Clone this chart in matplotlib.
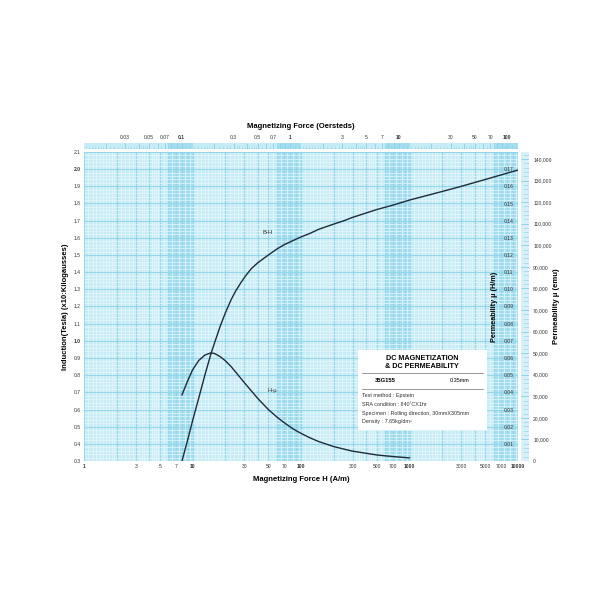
import matplotlib.pyplot as plt
import numpy as np
from matplotlib.patches import Rectangle
from matplotlib.ticker import FixedLocator, FixedFormatter, NullFormatter

plt.rcParams["font.family"] = ["Liberation Sans", "DejaVu Sans"]

MU0 = 4e-7 * np.pi          # H/m
OE = 1000 / (4 * np.pi)     # A/m per oersted

# B-H curve (H in A/m, B in Tesla)
bh_h = [8.0, 9.0, 10, 11.4, 13, 14.8, 16, 18, 20, 22.7, 25, 28, 31, 34.8,
        40, 50, 60, 70, 85, 100, 120, 146, 200, 250, 295, 400, 500, 700,
        1000, 2000, 3000, 5000, 10000]
bh_b = [0.30, 0.42, 0.533, 0.665, 0.80, 0.925, 0.99, 1.085, 1.16, 1.24,
        1.29, 1.34, 1.38, 1.42, 1.455, 1.50, 1.535, 1.56, 1.585, 1.605,
        1.625, 1.65, 1.68, 1.70, 1.718, 1.745, 1.765, 1.79, 1.82, 1.87,
        1.90, 1.94, 1.995]

# H-mu curve (H in A/m, mu in H/m)
hmu_h = [8.0, 9.0, 10, 11.4, 13, 14.8, 16, 18, 20, 22.7, 25, 28, 31, 34.8,
         40, 50, 60, 70, 85, 100, 120, 146, 200, 295, 500, 700, 1000]
hmu_mu = [0.0385, 0.0465, 0.053, 0.0585, 0.0617, 0.0630, 0.0626, 0.0608,
          0.0585, 0.0550, 0.0518, 0.0480, 0.0446, 0.0409, 0.0364, 0.0300,
          0.0256, 0.0223, 0.0186, 0.0161, 0.0136, 0.0113, 0.0084, 0.0058,
          0.0035, 0.0026, 0.0018]

h_ticks = [1, 3, 5, 7, 10, 30, 50, 70, 100, 300, 500, 700, 1000,
           3000, 5000, 7000, 10000]
oe_ticks = [0.03, 0.05, 0.07, 0.1, 0.3, 0.5, 0.7, 1, 3, 5, 7, 10,
            30, 50, 70, 100]
oe_labels = ["0.03", "0.05", "0.07", "0.1", "0.3", "0.5", "0.7", "1",
             "3", "5", "7", "10", "30", "50", "70", "100"]
b_ticks = np.round(np.arange(0.3, 2.11, 0.1), 1)
mu_ticks = np.round(np.arange(0.01, 0.171, 0.01), 2)
emu_ticks = np.arange(0, 140001, 10000)

BG = "#c8ecf6"
BAND = "#a3ddef"
MINOR = "#e6f7fc"
MAJOR = "#86d2e8"
INK = "#1d2b3a"
TXT = "#333333"


def fx(px):
    return px / 600


def fy(py):
    return 1 - py / 600


def log_grid(lo_exp, hi_exp):
    minor, major = [], []
    for e in range(lo_exp, hi_exp):
        d = 10.0 ** e
        minor += list(d * np.arange(1, 2, 0.1)) + list(d * np.arange(2, 5, 0.2)) \
            + list(d * np.arange(5, 10, 0.5))
        major += list(d * np.arange(1, 10, 1))
    major.append(10.0 ** hi_exp)
    return minor, major


fig = plt.figure(figsize=(6, 6), dpi=100)
x0, x1 = 84, 518
ytop, ybot = 152, 461
ax = fig.add_axes([fx(x0), fy(ybot), fx(x1 - x0), (ybot - ytop) / 600])
ax.set_xscale("log")
ax.set_xlim(1, 10000)
ax.set_ylim(0.3, 2.1)
ax.set_facecolor(BG)

for d in [1, 10, 100, 1000]:
    ax.axvspan(6 * d, 10 * d, color=BAND, lw=0, zorder=0)

vminor, vmajor = log_grid(0, 4)
ax.vlines(vminor, 0.3, 2.1, color=MINOR, lw=0.5, zorder=1)
ax.vlines(vmajor, 0.3, 2.1, color=MAJOR, lw=0.6, zorder=1)
ax.hlines(np.arange(0.3, 2.1, 0.02), 1, 10000, color=MINOR, lw=0.5, zorder=1)
ax.hlines(np.arange(0.3, 2.11, 0.1), 1, 10000, color=MAJOR, lw=0.6, zorder=1)

ax.plot(bh_h, bh_b, color=INK, lw=1.0, zorder=5)

for s in ax.spines.values():
    s.set_visible(False)

ax.xaxis.set_major_locator(FixedLocator(h_ticks))
ax.xaxis.set_major_formatter(FixedFormatter([str(t) for t in h_ticks]))
ax.xaxis.set_minor_locator(FixedLocator([]))
ax.xaxis.set_minor_formatter(NullFormatter())
ax.set_yticks(b_ticks)
ax.set_yticklabels([f"{t:.1f}" for t in b_ticks])
ax.tick_params(axis="both", length=0, labelsize=3.6, colors=TXT, pad=2.5)
for lab in ax.get_xticklabels():
    if lab.get_text() in ("1", "10", "100", "1000", "10000"):
        lab.set_fontweight("bold")
for lab in ax.get_yticklabels():
    if lab.get_text() in ("1.0", "2.0"):
        lab.set_fontweight("bold")

ax.set_xlabel("Magnetizing Force H (A/m)", fontsize=5.5, fontweight="bold",
              labelpad=5)
ax.set_ylabel("Induction(Tesla) (x10:Kilogausses)", fontsize=5.5,
              fontweight="bold", labelpad=3)

ax.text(10 ** ((268 - x0) / 108.5), 0.3 + (461 - 232) / 171.7, "B-H",
        fontsize=4.2, color=TXT, ha="center", va="center", zorder=6)
ax.text(10 ** ((272 - x0) / 108.5), 0.3 + (461 - 390) / 171.7, "H-μ",
        fontsize=4.2, color=TXT, ha="center", va="center", zorder=6)

# permeability (H/m) axis drawn inside the grid
ax2 = ax.twinx()
ax2.set_ylim(0, 0.18)
ax2.plot(hmu_h, hmu_mu, color=INK, lw=1.0, zorder=5)
ax2.set_yticks(mu_ticks)
ax2.set_yticklabels([f"{t:.2f}" for t in mu_ticks])
ax2.tick_params(axis="y", length=0, labelsize=3.6, colors=TXT, pad=-10)
for s in ax2.spines.values():
    s.set_visible(False)
ax2.text(0.945, 0.5, "Permeability μ (H/m)", transform=ax2.transAxes,
         rotation=90, fontsize=5.2, fontweight="bold", ha="center",
         va="center", zorder=6)

# top oersted ruler
axt = fig.add_axes([fx(x0), fy(149), fx(x1 - x0), 6 / 600])
axt.set_xscale("log")
axt.set_xlim(1 / OE, 10000 / OE)
axt.set_ylim(0, 1)
axt.set_facecolor(BG)
for d in [1, 10, 100, 1000]:
    axt.axvspan(6 * d / OE, 10 * d / OE, color=BAND, lw=0, zorder=0)
tminor, tmajor = log_grid(-2, 3)
tminor = [v for v in tminor if 1 / OE <= v <= 10000 / OE]
tmajor = [v for v in tmajor if 1 / OE <= v <= 10000 / OE]
axt.vlines(tminor, 0, 0.5, color=MAJOR, lw=0.4)
axt.vlines(tmajor, 0, 1, color=MAJOR, lw=0.6)
for s in axt.spines.values():
    s.set_visible(False)
axt.set_yticks([])
axt.xaxis.set_major_locator(FixedLocator(oe_ticks))
axt.xaxis.set_major_formatter(FixedFormatter(oe_labels))
axt.xaxis.set_minor_locator(FixedLocator([]))
axt.xaxis.tick_top()
axt.tick_params(axis="x", length=0, labelsize=3.6, colors=TXT, pad=2)
for lab in axt.get_xticklabels():
    if lab.get_text() in ("0.1", "1", "10", "100"):
        lab.set_fontweight("bold")
fig.text(fx(301), fy(127), "Magnetizing Force (Oersteds)", fontsize=5.5,
         fontweight="bold", ha="center", va="center")

# right emu ruler
axr = fig.add_axes([fx(521), fy(ybot), fx(8), (ybot - ytop) / 600])
axr.set_ylim(0, 0.18 / MU0)
axr.set_xlim(0, 1)
axr.set_facecolor("#d6f1f9")
axr.hlines(np.arange(0, 0.18 / MU0, 2000), 0.3, 1, color=MAJOR, lw=0.4)
axr.hlines(emu_ticks, 0, 1, color=MAJOR, lw=0.6)
for s in axr.spines.values():
    s.set_visible(False)
axr.set_xticks([])
axr.yaxis.tick_right()
axr.set_yticks(emu_ticks)
axr.set_yticklabels(["0"] + [f"{t:,}" for t in emu_ticks[1:]])
axr.tick_params(axis="y", length=0, labelsize=3.6, colors=TXT, pad=3)
fig.text(fx(556), fy(306), "Permeability μ (emu)", rotation=90, fontsize=5.5,
         fontweight="bold", ha="center", va="center")

# info box
fig.add_artist(Rectangle((fx(358), fy(430)), fx(129), 80 / 600,
                         transform=fig.transFigure, facecolor="white",
                         edgecolor="none", zorder=10))
fig.text(fx(422), fy(358), "DC MAGNETIZATION", fontsize=5.2, fontweight="bold",
         ha="center", va="center", zorder=11)
fig.text(fx(422), fy(367), "& DC PERMEABILITY", fontsize=5.2,
         fontweight="bold", ha="center", va="center", zorder=11)
for yy in (373, 389):
    fig.add_artist(plt.Line2D([fx(362), fx(483)], [fy(yy), fy(yy)],
                              transform=fig.transFigure, color="#888888",
                              lw=0.6, zorder=11))
fig.text(fx(375), fy(381), "35G155", fontsize=4.2, fontweight="bold",
         ha="left", va="center", zorder=11)
fig.text(fx(470), fy(381), "0.35mm", fontsize=4.0, ha="right", va="center",
         zorder=11)
info = ["Test method : Epstein", "SRA condition : 840˚CX1hr",
        "Specimen : Rolling direction, 30mmX305mm", "Density : 7.65kg/dm³"]
for i, line in enumerate(info):
    fig.text(fx(362), fy(396 + 8.5 * i), line, fontsize=3.9, ha="left",
             va="center", color=TXT, zorder=11)

fig.savefig("out.png", dpi=100, facecolor="white")
